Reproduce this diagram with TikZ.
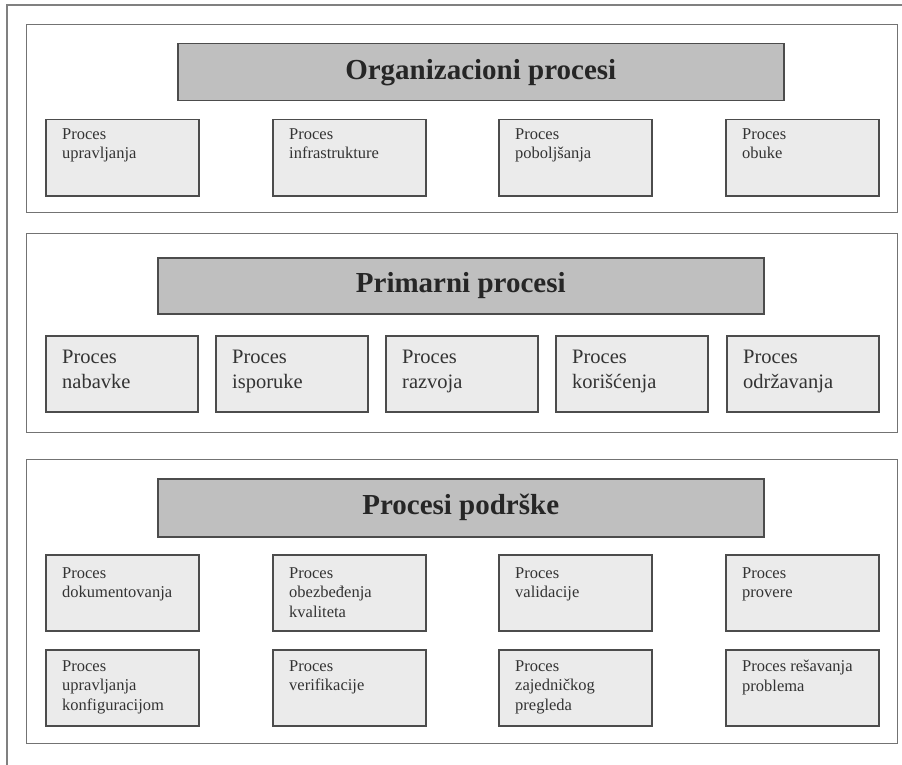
\documentclass[tikz,border=0pt]{standalone}
\usepackage{fontspec}
\setmainfont{Liberation Serif}
\begin{document}
\begin{tikzpicture}[x=1pt,y=-1pt,
    panel/.style={draw=black!55,line width=1.2pt,anchor=north west,inner sep=0pt,minimum width=871pt},
    header/.style={draw=black!70,fill=black!25,line width=1.5pt,anchor=north west,inner sep=0pt,
      minimum width=606pt,minimum height=57pt,text=black!85,font=\fontsize{29}{34}\selectfont\bfseries},
    procbox/.style={draw=black!70,fill=black!8,line width=1.5pt,anchor=north west,inner sep=0pt,
      minimum width=153pt,minimum height=76pt},
    smallbox/.style={procbox,label={[anchor=north west,xshift=17pt,yshift=-#1,align=left,inner sep=0pt,
      text=black!80,font=\fontsize{16.5}{19.5}\selectfont]north west:{\boxtext}}},
    bigbox/.style={procbox,minimum width=152pt,label={[anchor=north west,xshift=17pt,yshift=-15pt,align=left,inner sep=0pt,
      text=black!80,font=\fontsize{20.5}{25}\selectfont]north west:{\boxtext}}}]
  \useasboundingbox (0,0) rectangle (902,765);
  % outer frame
  \draw[black!50,line width=1.8pt] (7,770) |- (910,5);
  % panels
  \node[panel,minimum height=188pt] (PO) at (26,24) {};
  \node[panel,minimum height=199pt] (PP) at (26,233) {};
  \node[panel,minimum height=284pt] (PS) at (26,459) {};
  % headers
  \node[header] (HO) at (177,43) {Organizacioni procesi};
  \node[header,minimum height=56pt] (HP) at (157,257) {Primarni procesi};
  \node[header,minimum height=58pt] (HS) at (157,478) {Procesi podrške};
  % organizacioni
  \def\boxtext{Proces\\upravljanja}\node[smallbox=9pt] (O1) at (45,119) {};
  \def\boxtext{Proces\\infrastrukture}\node[smallbox=9pt] (O2) at (272,119) {};
  \def\boxtext{Proces\\poboljšanja}\node[smallbox=9pt] (O3) at (498,119) {};
  \def\boxtext{Proces\\obuke}\node[smallbox=9pt] (O4) at (725,119) {};
  % primarni
  \def\boxtext{Proces\\nabavke}\node[bigbox] (P1) at (45,335) {};
  \def\boxtext{Proces\\isporuke}\node[bigbox] (P2) at (215,335) {};
  \def\boxtext{Proces\\razvoja}\node[bigbox] (P3) at (385,335) {};
  \def\boxtext{Proces\\korišćenja}\node[bigbox] (P4) at (555,335) {};
  \def\boxtext{Proces\\održavanja}\node[bigbox] (P5) at (726,335) {};
  % podrska
  \def\boxtext{Proces\\dokumentovanja}\node[smallbox=13pt] (S1) at (45,554) {};
  \def\boxtext{Proces\\obezbeđenja\\kvaliteta}\node[smallbox=13pt] (S2) at (272,554) {};
  \def\boxtext{Proces\\validacije}\node[smallbox=13pt] (S3) at (498,554) {};
  \def\boxtext{Proces\\provere}\node[smallbox=13pt] (S4) at (725,554) {};
  \def\boxtext{Proces\\upravljanja\\konfiguracijom}\node[smallbox=11pt] (S5) at (45,649) {};
  \def\boxtext{Proces\\verifikacije}\node[smallbox=11pt] (S6) at (272,649) {};
  \def\boxtext{Proces\\zajedničkog\\pregleda}\node[smallbox=11pt] (S7) at (498,649) {};
  \def\boxtext{Proces rešavanja\\problema}\node[smallbox=11pt] (S8) at (725,649) {};
\end{tikzpicture}
\end{document}
